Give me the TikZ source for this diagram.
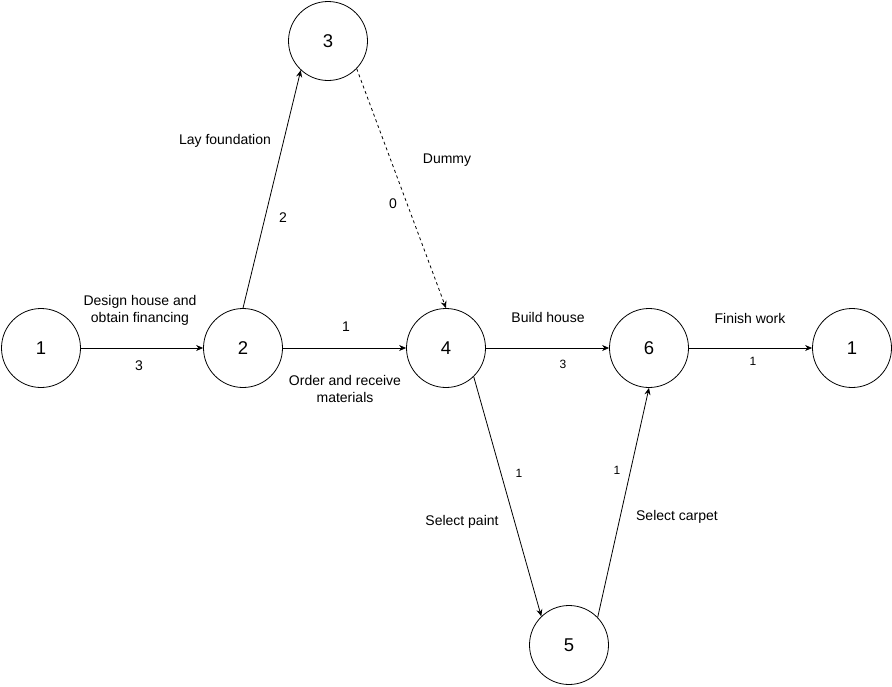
\documentclass[tikz,border=0pt]{standalone}
\usepackage{fontspec}
\setmainfont{Liberation Sans}
\usetikzlibrary{arrows.meta}
\begin{document}
\begin{tikzpicture}[x=1pt,y=-1pt,
  ev/.style={circle,draw,line width=0.8pt,minimum size=79pt,inner sep=0pt,font=\fontsize{18.5}{22}\selectfont},
  act/.style={draw,line width=0.8pt,-{Stealth[length=7pt,width=6pt]}},
  lbl/.style={inner sep=0pt,align=center,font=\fontsize{14}{17}\selectfont},
  num/.style={inner sep=0pt,font=\fontsize{14}{16}\selectfont},
  snum/.style={inner sep=0pt,font=\fontsize{12}{14}\selectfont}]
\useasboundingbox (0,0) rectangle (892,686);
\node[ev] (a) at (41,348) {1};
\node[ev] (b) at (243,348) {2};
\node[ev] (c) at (328,41) {3};
\node[ev] (d) at (446,348) {4};
\node[ev] (f) at (649,348) {6};
\node[ev] (g) at (852,348) {1};
\node[ev] (e) at (569,645) {5};
\draw[act] (a.east) -- (b.west);
\draw[act] (b.north) -- (c.227);
\draw[act,dashed] (c.316) -- (d.north);
\draw[act] (b.east) -- (d.west);
\draw[act] (d.east) -- (f.west);
\draw[act] (f.east) -- (g.west);
\draw[act] (d.314) -- (e.134);
\draw[act] (e.44) -- (f.south);
\node[lbl] (l1) at (140,310) {Design house and\\obtain financing};
\node[num] (n1) at (139,366) {3};
\node[lbl] (l2) at (225,141) {Lay foundation};
\node[num] (n2) at (283,218) {2};
\node[lbl] (l3) at (447,160) {Dummy};
\node[num] (n3) at (393,204) {0};
\node[num] (n4) at (346,327) {1};
\node[lbl] (l4) at (345,389) {Order and receive\\materials};
\node[lbl] (l5) at (548,317) {Build house};
\node[snum] (n5) at (563,364) {3};
\node[lbl] (l6) at (750,318) {Finish work};
\node[snum] (n6) at (753,361) {1};
\node[snum] (n7) at (519,473) {1};
\node[lbl] (l7) at (462,522) {Select paint};
\node[snum] (n8) at (617,470) {1};
\node[lbl] (l8) at (677,517) {Select carpet};
\end{tikzpicture}
\end{document}
